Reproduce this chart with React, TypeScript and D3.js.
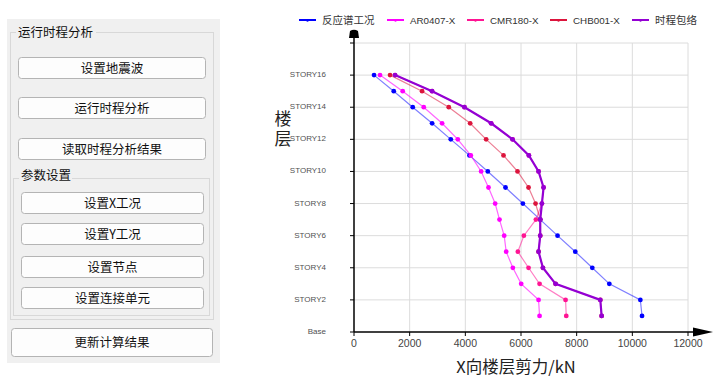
import React from "react";
import * as d3 from "d3";

const storyLevels = [1, 2, 3, 4, 5, 6, 7, 8, 9, 10, 11, 12, 13, 14, 15, 16];
const yTickLevels = [0, 2, 4, 6, 8, 10, 12, 14, 16];
const yTickLabels = ["Base", "STORY2", "STORY4", "STORY6", "STORY8", "STORY10", "STORY12", "STORY14", "STORY16"];
const xTicks = [0, 2000, 4000, 6000, 8000, 10000, 12000];

const seriesNames = ["反应谱工况", "AR0407-X", "CMR180-X", "CHB001-X", "时程包络"];
const spectrum = [10348, 10288, 9173, 8561, 7950, 7313, 6691, 6067, 5443, 4808, 4148, 3477, 2806, 2110, 1428, 720];
const ar0407 = [6667, 6631, 6007, 5707, 5468, 5396, 5228, 5072, 4832, 4568, 4197, 3729, 3165, 2506, 1750, 935];
const cmr180 = [7626, 7601, 6667, 6271, 5887, 6103, 6535, 6751, 6811, 6631, 6283, 5695, 4928, 3969, 2806, 1475];
const chb001 = [8897, 8849, 7242, 6787, 6631, 6691, 6691, 6523, 6271, 5875, 5372, 4748, 4173, 3405, 2446, 1295];
const envelope = [8897, 8849, 7242, 6787, 6631, 6691, 6691, 6751, 6811, 6631, 6283, 5695, 4928, 3969, 2806, 1475];

const panelTitle = "运行时程分析";
const groupTitle = "参数设置";
const topButtons = ["设置地震波", "运行时程分析", "读取时程分析结果"];
const groupButtons = ["设置X工况", "设置Y工况", "设置节点", "设置连接单元"];
const bottomButton = "更新计算结果";
const yTitle = "楼层";
const xTitle = "X向楼层剪力/kN";

const CJK = "'Noto Sans CJK SC', sans-serif";
const LAT = "'Liberation Sans', Arial, sans-serif";

const styles = [
  { dot: "#0000ff", line: "#0000ff", lineOpacity: 0.5, width: 1.2 },
  { dot: "#ff00ff", line: "#ff00ff", lineOpacity: 0.6, width: 1.2 },
  { dot: "#ff1493", line: "#ff1493", lineOpacity: 0.55, width: 1.2 },
  { dot: "#dc143c", line: "#dc143c", lineOpacity: 0.55, width: 1.2 },
  { dot: "#9400d3", line: "#9400d3", lineOpacity: 1, width: 2.2 },
];

function Button({ x, y, w, h, label }: { x: number; y: number; w: number; h: number; label: string }) {
  return (
    <g>
      <rect x={x + 0.5} y={y + 0.5} width={w} height={h} rx={3} fill="#fdfdfd" stroke="#b4b4b4" />
      <text x={x + w / 2 + 0.5} y={y + h / 2 + 5} textAnchor="middle" fontFamily={CJK} fontSize={12.5} fill="#111">
        {label}
      </text>
    </g>
  );
}

export default function App() {
  const x = d3.scaleLinear().domain([0, 12000]).range([354, 688]);
  const y = d3.scaleLinear().domain([0, 18]).range([332, 43]);
  const data = [spectrum, ar0407, cmr180, chb001, envelope];
  const line = d3
    .line<number>()
    .x((d) => x(d))
    .y((_, i) => y(storyLevels[i]));

  const legendX = [299, 387, 467, 550, 632];
  const topBtnY = [57, 97, 138];
  const grpBtnY = [192, 223, 256, 287];

  return (
    <div style={{ position: "absolute", left: 0, top: 0 }}>
      <svg width={715} height={388} style={{ display: "block", background: "#fff" }}>
        {/* Left panel */}
        <rect x={7} y={19} width={213} height={344} fill="#f0f0f0" />
        <rect x={10.5} y={32.5} width={203} height={287} fill="none" stroke="#d8d8d8" />
        <rect x={16} y={25} width={80} height={14} fill="#f0f0f0" />
        <text x={18} y={37} fontFamily={CJK} fontSize={12.5} fill="#111">{panelTitle}</text>
        {topButtons.map((b, i) => (
          <Button key={b} x={18} y={topBtnY[i]} w={187} h={21} label={b} />
        ))}
        <rect x={13.5} y={178.5} width={196} height={137} fill="none" stroke="#d8d8d8" />
        <rect x={19} y={171} width={53} height={14} fill="#f0f0f0" />
        <text x={21} y={180} fontFamily={CJK} fontSize={12.5} fill="#111">{groupTitle}</text>
        {groupButtons.map((b, i) => (
          <Button key={b} x={21} y={grpBtnY[i]} w={182} h={21} label={b} />
        ))}
        <Button x={11} y={328} w={201} h={28} label={bottomButton} />

        {/* Grid */}
        {xTicks.slice(1).map((t) => (
          <line key={"gx" + t} x1={x(t)} x2={x(t)} y1={y(18)} y2={y(0)} stroke="#dcdcdc" strokeWidth={1} />
        ))}
        {[2, 4, 6, 8, 10, 12, 14, 16, 18].map((l) => (
          <line key={"gy" + l} x1={x(0)} x2={x(12000)} y1={y(l)} y2={y(l)} stroke="#dcdcdc" strokeWidth={1} />
        ))}

        {/* Axes */}
        <line x1={x(0)} x2={x(0)} y1={37} y2={y(0)} stroke="#000" strokeWidth={1.5} />
        <path d={`M${x(0) - 5},38 L${x(0) - 4},31 Q${x(0)},28.5 ${x(0) + 4},31 L${x(0) + 5},38 Z`} fill="#000" />
        <line x1={x(0)} x2={694} y1={y(0)} y2={y(0)} stroke="#000" strokeWidth={1.5} />
        <path d={`M693,${y(0) - 4.5} L713,${y(0)} L693,${y(0) + 4.5} Z`} fill="#000" />
        {[...yTickLevels, 18].map((l) => (
          <line key={"ty" + l} x1={x(0) - 4} x2={x(0)} y1={y(l)} y2={y(l)} stroke="#000" strokeWidth={1} />
        ))}
        {xTicks.map((t) => (
          <line key={"tx" + t} x1={x(t)} x2={x(t)} y1={y(0)} y2={y(0) + 4} stroke="#000" strokeWidth={1} />
        ))}
        {yTickLabels.map((lab, i) => (
          <text key={"yl" + lab} x={326} y={y(yTickLevels[i]) + 2} textAnchor="end" fontFamily={LAT} fontSize={8} fill="#505050">
            {lab}
          </text>
        ))}
        {xTicks.map((t) => (
          <text key={"xl" + t} x={x(t)} y={347} textAnchor="middle" fontFamily={LAT} fontSize={10.5} fill="#444">
            {t}
          </text>
        ))}

        {/* Axis titles */}
        <text x={516} y={373} textAnchor="middle" fontFamily={CJK} fontSize={16.5} fill="#222">
          {xTitle}
        </text>
        <text
          x={283}
          y={110}
          fontFamily={CJK}
          fontSize={17}
          fill="#222"
          style={{ writingMode: "vertical-rl", letterSpacing: "3.5px" } as React.CSSProperties}
        >
          {yTitle}
        </text>

        {/* Series */}
        {data.map((s, k) => (
          <g key={"s" + k}>
            <path d={line(s) || ""} fill="none" stroke={styles[k].line} strokeOpacity={styles[k].lineOpacity} strokeWidth={styles[k].width} />
            {s.map((v, i) => (
              <circle key={i} cx={x(v)} cy={y(storyLevels[i])} r={2.4} fill={styles[k].dot} />
            ))}
          </g>
        ))}

        {/* Legend */}
        {seriesNames.map((n, k) => (
          <g key={"lg" + k}>
            <line x1={legendX[k]} x2={legendX[k] + 17} y1={20} y2={20} stroke={styles[k].dot} strokeWidth={2} />
            <circle cx={legendX[k] + 8.5} cy={20.5} r={1.2} fill={styles[k].dot} />
            <text x={legendX[k] + 23} y={24} fontFamily={k === 0 || k === 4 ? CJK : LAT} fontSize={k === 0 || k === 4 ? 10.5 : 9.8} fill="#333">
              {n}
            </text>
          </g>
        ))}
      </svg>
    </div>
  );
}
